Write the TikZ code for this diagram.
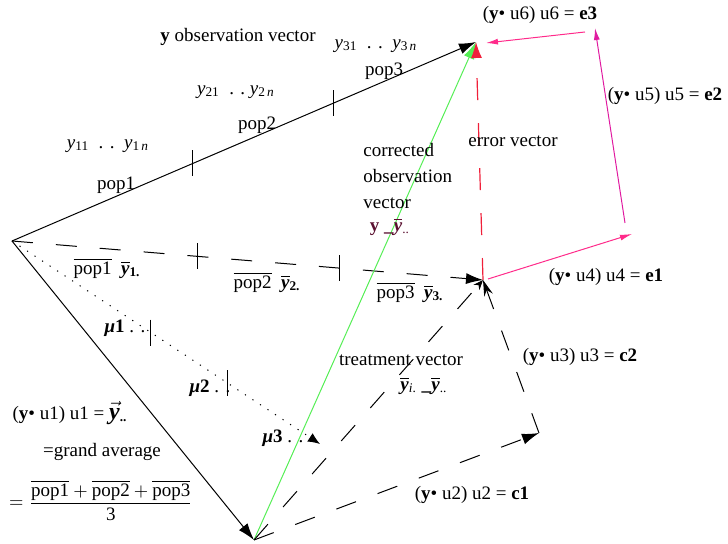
\documentclass[tikz,border=0pt]{standalone}
\usepackage{fontspec}
\setmainfont{Liberation Serif}
\usepackage{amsmath}
\definecolor{green400}{HTML}{55EE55}
\definecolor{red500}{HTML}{F0203A}
\definecolor{pink500}{HTML}{FF2A8A}
\definecolor{magenta500}{HTML}{E01AA0}
\definecolor{maroon800}{HTML}{5A1030}
\usetikzlibrary{arrows.meta, calc}

\newcommand{\ybar}{$\overline{\hbox{\textbf{\textit{y}}}}$}
\newcommand{\popbar}[1]{$\overline{\hbox{pop#1}}$}
\newcommand{\dotp}[1]{(\textbf{y}• u#1) u#1}

\begin{document}
\begin{tikzpicture}[
        x=0.5pt, y=-0.5pt,
        lbl/.style={inner sep=0pt, font=\fontsize{9.5}{13}\selectfont},
        vec/.style={line width=0.5pt, -{Latex[length=8.5pt,width=5.5pt]}},
        dashvec/.style={vec, dash pattern=on 10.5pt off 11.5pt},
        dotvec/.style={line width=0.5pt, dash pattern=on 0.6pt off 3.9pt, -{Latex[length=6pt,width=5pt]}},
        pinkvec/.style={line width=0.5pt, draw=pink500, -{Latex[length=6pt,width=3pt]}},
        tick/.style={line width=0.5pt}
    ]
        \useasboundingbox (0,0) rectangle (728,544);

        % Corner points
        \coordinate (O) at (12,241);
        \coordinate (T) at (476,42);
        \coordinate (P) at (483,280);
        \coordinate (B) at (254,540);
        \coordinate (C1) at (539,433);
        \coordinate (M3) at (320,444);

        % Observation vector and its projections
        \draw[vec] (O) -- (T);
        \draw[vec] (O) -- (B);
        \draw[dashvec] (O) -- (P);
        \draw[dotvec] (O) -- (M3);
        \draw[vec, draw=green400, -{Latex[length=8.5pt,width=5.5pt,fill=green400]}] (B) -- (T);
        \draw[line width=0.6pt, draw=red500, dash pattern=on 11pt off 11.5pt, -{Latex[length=8pt,width=5.5pt,fill=red500]}] (P) -- (T);
        \draw[dashvec, -{Stealth[length=5pt,width=4pt]}] (B) -- (P);
        \draw[dashvec] (B) -- (C1);
        \draw[dashvec, -{Stealth[length=8pt,width=4.5pt]}] (C1) -- (P);

        % Tick marks between the populations
        \foreach \f in {0.39, 0.692}
            \draw[tick] ($(O)!\f!(T)$) ++(0,-13) -- ++(0,26);
        \foreach \f in {0.393, 0.696}
            \draw[tick] ($(O)!\f!(P)$) ++(0,-13) -- ++(0,26);
        \foreach \f in {0.451, 0.70}
            \draw[tick] ($(O)!\f!(M3)$) ++(0,-13) -- ++(0,26);

        % Error components
        \coordinate (e1a) at (488,279);
        \coordinate (e1b) at (632,234);
        \coordinate (e2a) at (625,223);
        \coordinate (e2b) at (595,28);
        \coordinate (e3a) at (585,32);
        \coordinate (e3b) at (486,43);
        \draw[pinkvec] (e1a) -- (e1b);
        \draw[pinkvec, draw=magenta500, -{Latex[length=6pt,width=3pt]}] (e2a) -- (e2b);
        \draw[pinkvec] (e3a) -- (e3b);

        % Labels
        \node[lbl] (obs) at (238,37) {\textbf{y} observation vector};
        \node[lbl] (y3) at (376,46) {\textit{y}\textsubscript{31}~~. .~~\textit{y}\textsubscript{3\,\textit{n}}};
        \node[lbl] (pop3) at (384,71) {pop3};
        \node[lbl] (y2) at (236,92) {\textit{y}\textsubscript{21}~~. .~\textit{y}\textsubscript{2\,\textit{n}}};
        \node[lbl] (pop2) at (257,125) {pop2};
        \node[lbl] (y1) at (108,146) {\textit{y}\textsubscript{11}~~. .~~\textit{y}\textsubscript{1\,\textit{n}}};
        \node[lbl] (pop1) at (116,185) {pop1};
        \node[lbl] (e3) at (540,15) {\dotp{6} = \textbf{e3}};
        \node[lbl] (e2) at (665,96) {\dotp{5} = \textbf{e2}};
        \node[lbl] (err) at (513,141) {error vector};
        \node[lbl, align=left, anchor=west] (corr) at (363,176) {corrected\\observation\\vector};
        \node[lbl, text=maroon800] (ydev) at (390,227) {\textbf{y}~\textbf{\_}\ybar\textsubscript{..}};
        \node[lbl] (m1) at (107,268) {\popbar{1}~~\ybar\textsubscript{\textbf{1.}}};
        \node[lbl] (m2) at (267,282) {\popbar{2}~~\ybar\textsubscript{\textbf{2.}}};
        \node[lbl] (m3) at (410,292) {\popbar{3}~~\ybar\textsubscript{\textbf{3.}}};
        \node[lbl] (e1) at (606,277) {\dotp{4} = \textbf{e1}};
        \node[lbl] (mu1) at (125,328) {\textbf{\textit{μ}1}~. .};
        \node[lbl] (mu2) at (210,388) {\textbf{\textit{μ}2}~. .};
        \node[lbl] (mu3) at (283,438) {\textbf{\textit{μ}3}~. .};
        \node[lbl] (c2) at (580,357) {\dotp{3} = \textbf{c2}};
        \node[lbl] (treat) at (401,360) {treatment vector};
        \node[lbl] (ydiff) at (424,386) {\ybar\textsubscript{\textit{i}.}~\textbf{\_}\ybar\textsubscript{..}};
        \node[lbl] (u1) at (70,413) {\dotp{1} = {\large$\vec{\hbox{\textbf{\textit{y}}}}$}\textsubscript{\textbf{..}}};
        \node[lbl] (grand) at (102,452) {=grand average};
        \node[lbl] (avg) at (101,500) {$=\dfrac{\overline{\hbox{pop1}}+\overline{\hbox{pop2}}+\overline{\hbox{pop3}}}{\hbox{3}}$};
        \node[lbl] (c1) at (472,495) {\dotp{2} = \textbf{c1}};
    \end{tikzpicture}
\end{document}
